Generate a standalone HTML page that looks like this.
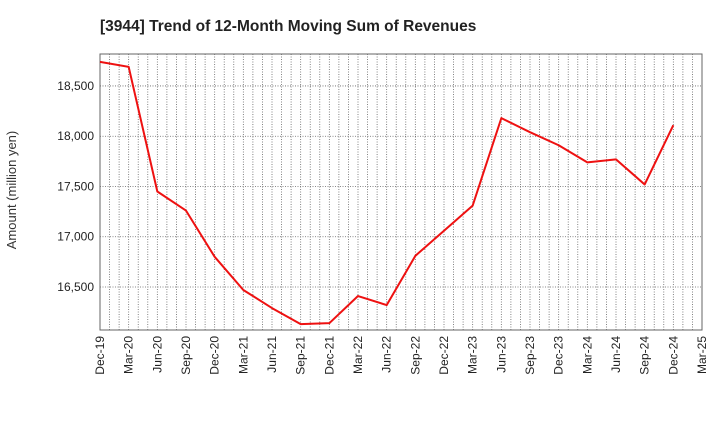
<!DOCTYPE html>
<html><head><meta charset="utf-8"><style>
body{margin:0;background:#fff;font-family:"Liberation Sans",sans-serif;}
svg text{font-family:"Liberation Sans",sans-serif;}
</style></head><body>
<svg id="chart" width="720" height="440" xmlns="http://www.w3.org/2000/svg">
<text x="100" y="31" font-size="15.5" font-weight="bold" fill="#222">[3944]  Trend of 12-Month Moving Sum of Revenues</text>
<text transform="translate(16,190) rotate(-90)" text-anchor="middle" font-size="13" fill="#333">Amount (million yen)</text>
<g id="grid"></g><g id="axes"></g><g id="series"></g>
</svg>
<script>
const categories=["Dec-19","Mar-20","Jun-20","Sep-20","Dec-20","Mar-21","Jun-21","Sep-21","Dec-21","Mar-22","Jun-22","Sep-22","Dec-22","Mar-23","Jun-23","Sep-23","Dec-23","Mar-24","Jun-24","Sep-24","Dec-24","Mar-25"];
const revenues=[18740,18690,17450,17260,16800,16470,16290,16130,16140,16410,16320,16810,17060,17310,18180,18040,17910,17740,17770,17520,18110];
const yTicks=[16500,17000,17500,18000,18500];
const yTickLabels=["16,500","17,000","17,500","18,000","18,500"];
const L=100,R=702,T=54,B=330,yMin=16072,yMax=18818;
const NS="http://www.w3.org/2000/svg";
const monthsTotal=(categories.length-1)*3;
function xQ(i){return L+(R-L)*i/(categories.length-1);}
function xM(m){return L+(R-L)*m/monthsTotal;}
function y(v){return B-(v-yMin)/(yMax-yMin)*(B-T);}
function mk(tag,attrs,parent){const e=document.createElementNS(NS,tag);for(const k in attrs)e.setAttribute(k,attrs[k]);parent.appendChild(e);return e;}
const grid=document.getElementById('grid'),axes=document.getElementById('axes'),series=document.getElementById('series');
for(let m=1;m<monthsTotal;m++){
 const l=mk('line',{x1:xM(m),x2:xM(m),y1:T,y2:B,stroke:'#666','stroke-width':0.8,'stroke-dasharray':'1,1.5'},grid);
 
 
}
yTicks.forEach((v,i)=>{
 const l=mk('line',{x1:L,x2:R,y1:y(v),y2:y(v),stroke:'#666','stroke-width':0.8,'stroke-dasharray':'1,1.5'},grid);
 
 
 const t=mk('text',{x:L-6,y:y(v)+4,'text-anchor':'end','font-size':12,fill:'#222'},axes);
 t.textContent=yTickLabels[i];
 
 
});
categories.forEach((c,i)=>{
 const x=xQ(i);
 const t=mk('text',{transform:`translate(${x+4},${B+6}) rotate(-90)`,'text-anchor':'end','font-size':12,fill:'#222'},axes);
 t.textContent=c;
 
 
});
const frame=mk('rect',{x:L,y:T,width:R-L,height:B-T,fill:'none',stroke:'#666','stroke-width':1},axes);


const pts=revenues.map((v,i)=>xQ(i)+','+y(v)).join(' ');
const line=mk('polyline',{points:pts,fill:'none',stroke:'#ee1111','stroke-width':2,'stroke-linejoin':'round'},series);


</script>
</body></html>
